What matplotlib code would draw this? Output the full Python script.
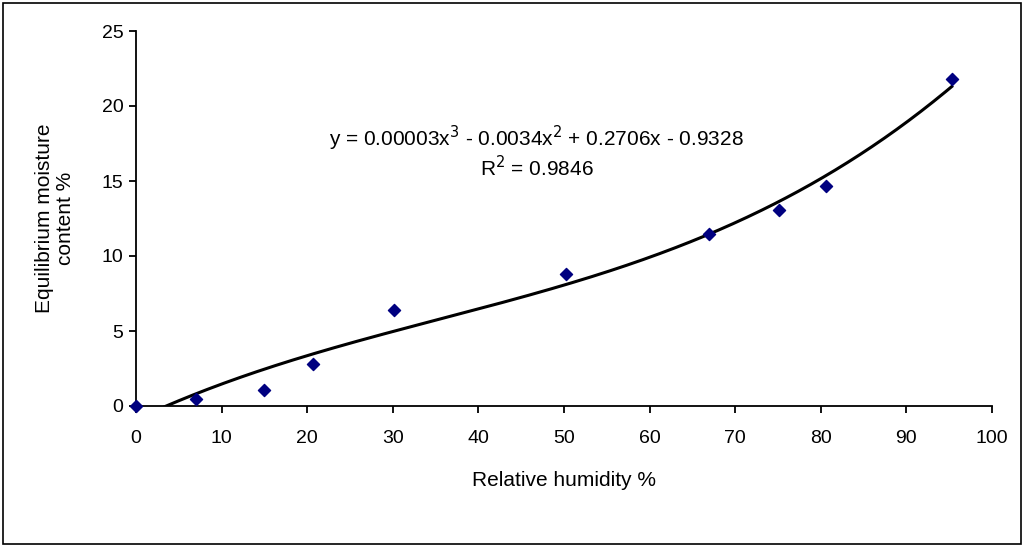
import numpy as np
import matplotlib
matplotlib.use("Agg")
import matplotlib.pyplot as plt
from matplotlib.patches import Rectangle

plt.rcParams['font.family'] = ['Liberation Sans', 'DejaVu Sans']

# Data
rel_humidity = [0.0, 7.0, 15.0, 20.7, 30.1, 50.2, 66.9, 75.1, 80.6, 95.3]
moisture = [0.0, 0.45, 1.1, 2.8, 6.4, 8.8, 11.5, 13.1, 14.7, 21.8]
x_ticks = [0, 10, 20, 30, 40, 50, 60, 70, 80, 90, 100]
y_ticks = [0, 5, 10, 15, 20, 25]
equation_text = "y = 0.00003x$^{3}$ - 0.0034x$^{2}$ + 0.2706x - 0.9328"
r2_text = "R$^{2}$ = 0.9846"

fig = plt.figure(figsize=(10.24, 5.48), dpi=100)
ax = fig.add_axes([136/1024, 1 - 406/548, (992-136)/1024, (406-31)/548])

# Cubic trendline fitted to the data
coef = np.polyfit(rel_humidity, moisture, 3)
xs = np.linspace(min(rel_humidity), max(rel_humidity), 400)
ax.plot(xs, np.polyval(coef, xs), color='black', lw=2.2, zorder=2)

ax.scatter(rel_humidity, moisture, marker='D', s=38, color='#000080',
           zorder=3, clip_on=False)

ax.set_xlim(0, 100)
ax.set_ylim(0, 25)
ax.set_xticks(x_ticks)
ax.set_yticks(y_ticks)
for s in ['top', 'right']:
    ax.spines[s].set_visible(False)
for s in ['left', 'bottom']:
    ax.spines[s].set_linewidth(1.3)
ax.tick_params(direction='out', length=5, width=1.3, labelsize=14)
ax.tick_params(axis='x', pad=12)
ax.tick_params(axis='y', pad=4)

ax.set_xlabel("Relative humidity %", fontsize=15)
ax.xaxis.set_label_coords(0.5, (406 - 480) / 375)
ax.xaxis.label.set_va('center')
ax.set_ylabel("Equilibrium moisture\ncontent %", fontsize=15, linespacing=1.15)
ax.yaxis.set_label_coords((55 - 136) / 856, 0.5)
ax.yaxis.label.set_va('center')

ax.text((536 - 136) / 856, (406 - 138) / 375, equation_text,
        transform=ax.transAxes, fontsize=15, ha='center', va='center')
ax.text((537 - 136) / 856, (406 - 168) / 375, r2_text,
        transform=ax.transAxes, fontsize=15, ha='center', va='center')

fig.patches.append(Rectangle((3/1024, 4/548), 1018/1024, 541/548,
                             transform=fig.transFigure, fill=False,
                             edgecolor='black', lw=1.2))

fig.savefig("out.png", dpi=100)
